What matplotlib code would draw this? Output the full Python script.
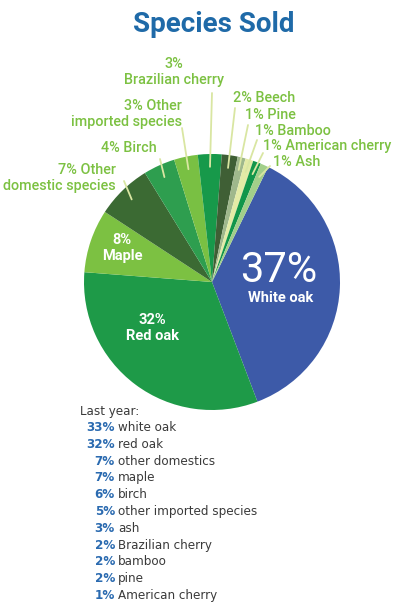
import matplotlib.pyplot as plt
import numpy as np

# This year's share of species sold (percent), clockwise from white oak
species = ['White oak', 'Red oak', 'Maple', 'Other domestic species', 'Birch',
           'Other imported species', 'Brazilian cherry', 'Beech', 'Pine',
           'Bamboo', 'American cherry', 'Ash']
share = [37, 32, 8, 7, 4, 3, 3, 2, 1, 1, 1, 1]
colors = ['#3d5aa8', '#1e9a48', '#7cc142', '#3b6a33', '#2e9e4f', '#79c043',
          '#17994a', '#3f5f35', '#9fb88c', '#e3eba6', '#12964a', '#a2cf8a']

# Last year's shares for the list under the pie
last_names = ['white oak', 'red oak', 'other domestics', 'maple', 'birch',
              'other imported species', 'ash', 'Brazilian cherry', 'bamboo',
              'pine', 'American cherry']
last_share = [33, 32, 7, 7, 6, 5, 3, 2, 2, 2, 1]

W, H = 400, 609
fig = plt.figure(figsize=(W / 100, H / 100), dpi=100)


def px(x, y):
    # pixel position (from top-left) -> figure fraction
    return x / W, 1 - y / H


# Pie axes placed so its centre sits at (212, 282) px with radius 128 px
cx, cy, r = 212, 282, 128
ax = fig.add_axes([(cx - r) / W, (H - cy - r) / H, 2 * r / W, 2 * r / H])
wedges, _ = ax.pie(share, colors=colors, startangle=64, counterclock=False,
                   radius=1, wedgeprops=dict(linewidth=0))
ax.set_xlim(-1, 1)
ax.set_ylim(-1, 1)
ax.set_aspect('equal')
ax.axis('off')

narrow = dict(family=['Roboto'])
list_font = dict(family=['DejaVu Sans'], fontstretch='condensed')

fig.text(*px(214, 24), 'Species Sold', ha='center', va='center',
         fontsize=20, fontweight='bold', color='#1f6aa8', **narrow)

# Labels inside the big wedges
fig.text(*px(279, 270), f'{share[0]}%', ha='center', va='center',
         fontsize=30, color='white', **narrow)
fig.text(*px(281, 298), species[0], ha='center', va='center',
         fontsize=10.5, fontweight='bold', color='white', **narrow)
fig.text(*px(152, 328), f'{share[1]}%\n{species[1]}', ha='center', va='center',
         fontsize=10.5, fontweight='bold', color='white', linespacing=1.25, **narrow)
fig.text(*px(122, 248), f'{share[2]}%\n{species[2]}', ha='center', va='center',
         fontsize=10.5, fontweight='bold', color='white', linespacing=1.25, **narrow)

# Outside labels: text, text position, alignment, leader end (px)
outer = {
    3: ('7% Other\ndomestic species', (116, 178), 'right', (124, 181)),
    4: ('4% Birch', (157, 148), 'right', (160, 159)),
    5: ('3% Other\nimported species', (182, 114), 'right', (182, 128)),
    6: ('3%\nBrazilian cherry', (174, 72), 'center', (212, 93)),
    7: ('2% Beech', (233, 98), 'left', (235, 108)),
    8: ('1% Pine', (245, 115), 'left', (248, 125)),
    9: ('1% Bamboo', (255, 131), 'left', (257, 140)),
    10: ('1% American cherry', (263, 146), 'left', (263, 153)),
    11: ('1% Ash', (273, 162), 'left', (270, 166)),
}
for i, (txt, (tx, ty), ha, (lx, ly)) in outer.items():
    fig.text(*px(tx, ty), txt, ha=ha, va='center', multialignment=ha,
             fontsize=10.4, fontweight='medium', color='#7cc142',
             linespacing=1.1, **narrow)
    w = wedges[i]
    ang = np.deg2rad((w.theta1 + w.theta2) / 2)
    ax.annotate('', xy=(0.9 * np.cos(ang), 0.9 * np.sin(ang)), xycoords='data',
                xytext=px(lx, ly), textcoords='figure fraction',
                arrowprops=dict(arrowstyle='-', color='#d9e6a2', lw=1.3,
                                shrinkA=0, shrinkB=0))

# Last year list
fig.text(*px(80, 411), 'Last year:', ha='left', va='center',
         fontsize=9.5, color='#3a3a3a', **list_font)
for k, (name, val) in enumerate(zip(last_names, last_share)):
    y = 427.5 + k * 16.8
    fig.text(*px(115, y), f'{val}%', ha='right', va='center',
             fontsize=9.5, fontweight='bold', color='#2a6ab0', **list_font)
    fig.text(*px(118, y), name, ha='left', va='center',
             fontsize=9.5, color='#3a3a3a', **list_font)

fig.savefig('out.png', dpi=100, facecolor='white')
